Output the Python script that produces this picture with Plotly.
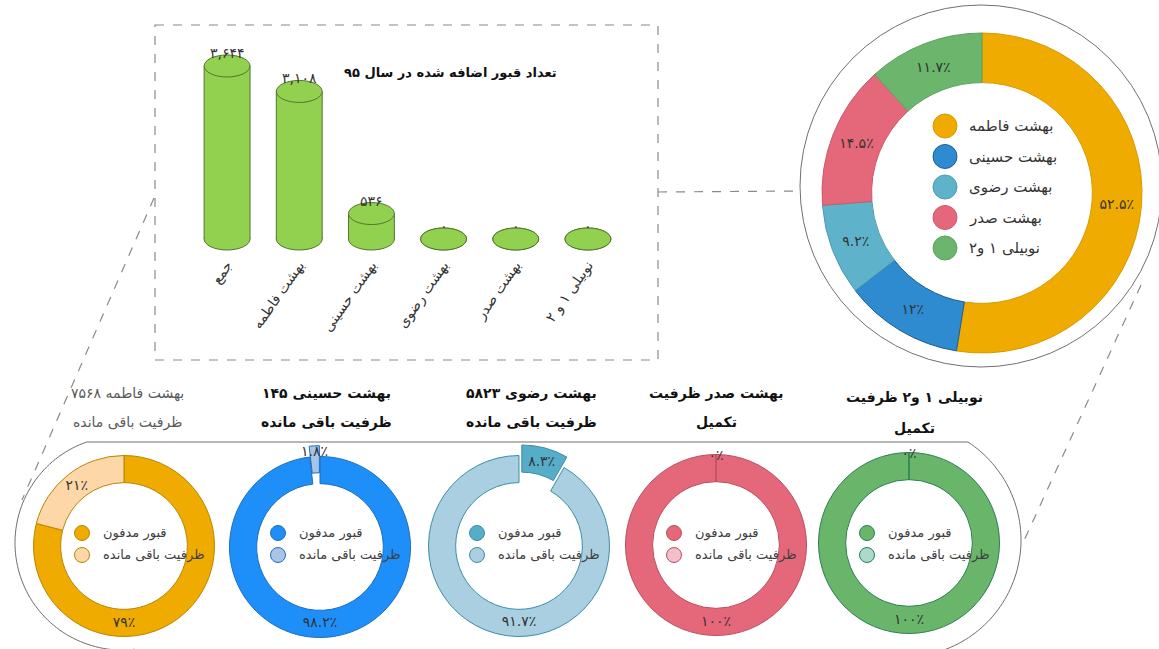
import numpy as np
import plotly.graph_objects as go

W, H = 1159, 649
FONT = "DejaVu Sans"
FA = str.maketrans("0123456789", "۰۱۲۳۴۵۶۷۸۹")


def fa(s):
    return str(s).translate(FA)


# ---------------- data ----------------
bar_title = "تعداد قبور اضافه شده در سال ۹۵"
bar_categories = ["جمع", "بهشت فاطمه", "بهشت حسینی", "بهشت رضوی", "بهشت صدر", "نوبیلی ۱ و ۲"]
bar_values = [3644, 3108, 536, 0, 0, 0]

share_names = ["بهشت فاطمه", "بهشت حسینی", "بهشت رضوی", "بهشت صدر", "نوبیلی ۱ و۲"]
share_values = [52.5, 12, 9.2, 14.5, 11.7]
share_colors = ["#F0AB00", "#2E8BCF", "#5EB2C9", "#E5687A", "#6BB56D"]
share_lines = ["#D89A00", "#1F5F90", "#4E9DB2", "#CC5A6B", "#5EA260"]

site_titles = [
    ["بهشت فاطمه ۷۵۶۸", "ظرفیت باقی مانده"],
    ["بهشت حسینی ۱۴۵", "ظرفیت باقی مانده"],
    ["بهشت رضوی ۵۸۲۳", "ظرفیت باقی مانده"],
    ["بهشت صدر ظرفیت", "تکمیل"],
    ["نوبیلی ۱ و۲ ظرفیت", "تکمیل"],
]
status_names = ["قبور مدفون", "ظرفیت باقی مانده"]
buried_pct = [79, 98.2, 8.3, 100, 100]
remaining_pct = [21, 1.8, 91.7, 0, 0]
buried_colors = ["#F0AB00", "#1E8FF8", "#56ADC8", "#E5687A", "#69B66B"]
remaining_colors = ["#FDD7A8", "#A9C4E6", "#A9CFE0", "#F2BFCB", "#A8DBC9"]
edge_colors = ["#B98500", "#1A6FC0", "#3B8EAA", "#B94F60", "#2C7D55"]
pulled = [[0, 0], [0, 0.12], [0.12, 0], [0, 0], [0, 0]]

# ---------------- layout helpers (pixel geometry) ----------------
def px_x(x):
    return x / W


def px_y(y):
    return 1 - y / H


fig = go.Figure()

# bar subplot geometry
y_lo, y_hi = -300, 4000
py_zero, ppu = 239.0, 0.04748
py_lo = py_zero - y_lo * ppu
py_hi = py_zero - y_hi * ppu
bar_w = 0.636
ell_h = 11.0 / ppu

fig.add_trace(go.Bar(
    x=bar_categories, y=bar_values, width=bar_w,
    marker=dict(color="#92D050", line=dict(width=0)),
    showlegend=False, hoverinfo="skip", xaxis="x", yaxis="y",
))

shapes = []
annotations = []
for i, v in enumerate(bar_values):
    # bottom ellipse (behind bar)
    shapes.append(dict(type="circle", xref="x", yref="y", layer="below",
                       x0=i - bar_w / 2, x1=i + bar_w / 2, y0=-ell_h, y1=ell_h,
                       fillcolor="#92D050", line=dict(color="#56732F", width=1)))
    # sides
    for sx in (i - bar_w / 2, i + bar_w / 2):
        shapes.append(dict(type="line", xref="x", yref="y", layer="above",
                           x0=sx, x1=sx, y0=0, y1=v, line=dict(color="#56732F", width=1)))
    # top ellipse
    shapes.append(dict(type="circle", xref="x", yref="y", layer="above",
                       x0=i - bar_w / 2, x1=i + bar_w / 2, y0=v - ell_h, y1=v + ell_h,
                       fillcolor="#92D050", line=dict(color="#56732F", width=1)))
    annotations.append(dict(x=i, y=v, xref="x", yref="y", text=fa(f"{v:,}"),
                            showarrow=False, yshift=13, yanchor="middle",
                            font=dict(family=FONT, size=14, color="#333333")))

annotations.append(dict(x=px_x(450), y=px_y(63), xref="paper", yref="paper",
                        text="<b>" + bar_title + "</b>", showarrow=False,
                        font=dict(family=FONT, size=13, color="#111111")))


def dom(cx, cy, r, pull=0.0):
    h = r * (1 + pull)
    return dict(x=[px_x(cx - h), px_x(cx + h)], y=[px_y(cy + h), px_y(cy - h)])


# big share donut
fig.add_trace(go.Pie(
    labels=share_names, values=share_values,
    text=[fa(f"{v:g}") + "٪" for v in share_values], textinfo="text",
    textposition="inside", insidetextorientation="horizontal",
    textfont=dict(family=FONT, size=14, color="#333333"),
    marker=dict(colors=share_colors, line=dict(color=share_lines, width=1)),
    hole=0.69, sort=False, direction="clockwise", rotation=0,
    domain=dom(982, 193, 160), showlegend=False, hoverinfo="skip",
))

# small site donuts
centers = [(124, 546), (320, 547), (519, 546), (716, 545), (909, 543)]
for k, (cx, cy) in enumerate(centers):
    vals = [buried_pct[k], remaining_pct[k]]
    fig.add_trace(go.Pie(
        labels=status_names, values=vals,
        text=[fa(f"{v:g}") + "٪" for v in vals], textinfo="text",
        textposition="inside", insidetextorientation="horizontal",
        textfont=dict(family=FONT, size=14, color="#333333"),
        marker=dict(colors=[buried_colors[k], remaining_colors[k]],
                    line=dict(color=edge_colors[k], width=1)),
        pull=pulled[k], hole=0.70, sort=False, direction="clockwise", rotation=0,
        domain=dom(cx, cy, 90.5, max(pulled[k])), showlegend=False, hoverinfo="skip",
    ))
    # legend inside the donut
    for j, (name, col) in enumerate(zip(status_names, [buried_colors[k], remaining_colors[k]])):
        ly = 533 + 22 * j
        shapes.append(dict(type="circle", xref="x2", yref="y2", layer="above",
                           x0=cx - 49.5, x1=cx - 34.5, y0=ly - 7.5, y1=ly + 7.5,
                           fillcolor=col, line=dict(color=edge_colors[k], width=1)))
        annotations.append(dict(x=cx - 23, y=ly, xref="x2", yref="y2", text=name,
                                showarrow=False, xanchor="left", yanchor="middle",
                                font=dict(family=FONT, size=13, color="#404040")))
    # title
    ty = [393, 422] if k < 4 else [397, 428]
    tx = [127, 326, 531, 716, 914][k]
    for j, line in enumerate(site_titles[k]):
        txt = line if k == 0 else "<b>" + line + "</b>"
        annotations.append(dict(x=tx, y=ty[j], xref="x2", yref="y2", text=txt,
                                showarrow=False, xanchor="center", yanchor="middle",
                                font=dict(family=FONT, size=14,
                                          color="#595959" if k == 0 else "#111111")))

# big donut legend
for j, (name, col) in enumerate(zip(share_names, share_colors)):
    ly = 126 + 30.5 * j
    shapes.append(dict(type="circle", xref="x2", yref="y2", layer="above",
                       x0=945 - 12, x1=945 + 12, y0=ly - 12, y1=ly + 12,
                       fillcolor=col, line=dict(color=share_lines[j], width=1)))
    annotations.append(dict(x=967, y=ly, xref="x2", yref="y2", text=name,
                            showarrow=False, xanchor="left", yanchor="middle",
                            font=dict(family=FONT, size=15, color="#333333")))

# decorations
dash_col = "#8A8A8A"
shapes.append(dict(type="rect", xref="x2", yref="y2", x0=155, x1=658, y0=25, y1=360,
                   line=dict(color=dash_col, width=1.2, dash="dash")))
shapes.append(dict(type="line", xref="x2", yref="y2", x0=658, x1=800, y0=192, y1=191,
                   line=dict(color=dash_col, width=1.2, dash="dash")))
shapes.append(dict(type="line", xref="x2", yref="y2", x0=154, x1=22, y0=198, y1=500,
                   line=dict(color=dash_col, width=1.2, dash="dash")))
shapes.append(dict(type="line", xref="x2", yref="y2", x0=1141, x1=1022, y0=285, y1=545,
                   line=dict(color=dash_col, width=1.2, dash="dash")))
shapes.append(dict(type="circle", xref="x2", yref="y2", x0=981 - 181, x1=981 + 181,
                   y0=186 - 181, y1=186 + 181, line=dict(color="#707070", width=1)))

# bottom stadium outline
lcx, lcy, lr = 122, 543, 107
rcx, rcy, rr = 904, 540, 117
line_y = 442
t_l = 2 * np.pi - (np.pi - np.arcsin((lcy - line_y) / lr))
t_r = -np.arcsin((rcy - line_y) / rr)
tl = np.linspace(1.45, t_l, 80)
tr = np.linspace(t_r, 1.75, 80)
pts = [(lcx + lr * np.cos(t), lcy + lr * np.sin(t)) for t in tl]
pts += [(rcx + rr * np.cos(t), rcy + rr * np.sin(t)) for t in tr]
path = "M " + " L ".join(f"{x:.1f},{y:.1f}" for x, y in pts)
shapes.append(dict(type="path", xref="x2", yref="y2", path=path,
                   line=dict(color="#6E6E6E", width=1)))

# invisible overlay subplot in pixel units for decorations
fig.add_trace(go.Scatter(x=[None], y=[None], xaxis="x2", yaxis="y2",
                         showlegend=False, hoverinfo="skip"))

fig.update_layout(
    width=W, height=H,
    margin=dict(l=0, r=0, t=0, b=0),
    paper_bgcolor="white", plot_bgcolor="rgba(0,0,0,0)",
    font=dict(family=FONT, color="#333333"),
    showlegend=False,
    uniformtext=dict(minsize=14, mode="show"),
    xaxis=dict(domain=[px_x(191), px_x(624)], range=[-0.5, 5.5], type="category",
               showgrid=False, zeroline=False, showline=False, ticks="",
               tickangle=-55, tickfont=dict(family=FONT, size=14, color="#333333"),
               anchor="y", fixedrange=True),
    yaxis=dict(domain=[px_y(py_lo), px_y(py_hi)], range=[y_lo, y_hi], visible=False,
               anchor="x", fixedrange=True),
    xaxis2=dict(domain=[0, 1], range=[0, W], visible=False, anchor="y2", fixedrange=True),
    yaxis2=dict(domain=[0, 1], range=[H, 0], visible=False, anchor="x2", fixedrange=True),
    shapes=shapes,
    annotations=annotations,
)

fig.write_html("out.html", config={"displayModeBar": False},
               post_script="document.body.style.margin='0';document.body.style.overflow='hidden';")
